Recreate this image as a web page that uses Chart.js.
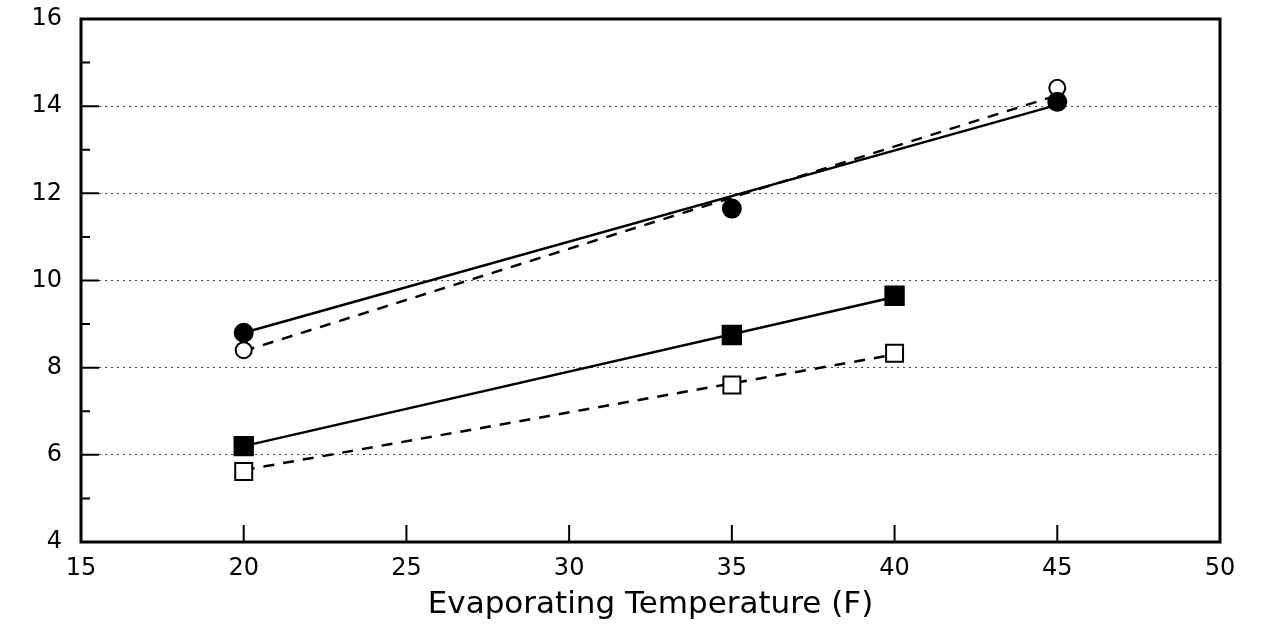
<!DOCTYPE html>
<html>
<head>
<meta charset="utf-8">
<script src="https://cdn.jsdelivr.net/npm/chart.js@4/dist/chart.umd.min.js"></script>
<style>
  html, body { margin: 0; padding: 0; background: #fff; }
  #wrap { width: 1266px; height: 626px; position: relative; }
</style>
</head>
<body>
<div id="wrap"><canvas id="c"></canvas></div>
<script>
const xTicks = [15, 20, 25, 30, 35, 40, 45, 50];
const yTicks = [4, 6, 8, 10, 12, 14, 16];

// measured points
const filledCircleX = [20, 35, 45];
const filledCircleY = [8.8, 11.65, 14.1];
const openCircleX = [20, 45];
const openCircleY = [8.4, 14.42];
const filledSquareX = [20, 35, 40];
const filledSquareY = [6.2, 8.75, 9.65];
const openSquareX = [20, 35, 40];
const openSquareY = [5.62, 7.6, 8.33];

// fitted lines (end points)
const fitFilledCircleX = [20, 45];
const fitFilledCircleY = [8.8, 14.03];
const fitOpenCircleX = [20, 45];
const fitOpenCircleY = [8.38, 14.25];
const fitFilledSquareX = [20, 40];
const fitFilledSquareY = [6.2, 9.62];
const fitOpenSquareX = [20, 40];
const fitOpenSquareY = [5.65, 8.3];

const FONT = "DejaVu Sans";

function pts(xs, ys){
  return xs.map((x, i) => ({x, y: ys[i]}));
}

function markers(xs, ys, style, filled, r){
  return {
    data: pts(xs, ys),
    showLine: false,
    pointStyle: style,
    pointRadius: r,
    pointBorderWidth: 2,
    pointBorderColor: "#000",
    pointBackgroundColor: filled ? "#000" : "#fff"
  };
}

function fitLine(xs, ys, dashed){
  return {
    data: pts(xs, ys),
    showLine: true,
    borderColor: "#000",
    borderWidth: 2.5,
    borderDash: dashed ? [11, 9] : [],
    pointRadius: 0,
    tension: 0,
    fill: false
  };
}

// frame plus inward tick marks
const framePlugin = {
  id: "frame",
  afterDraw(chart){
    const {ctx, chartArea: a, scales} = chart;
    ctx.save();
    ctx.strokeStyle = "#000";
    ctx.lineWidth = 3;
    ctx.strokeRect(a.left, a.top, a.right - a.left, a.bottom - a.top);
    ctx.lineWidth = 2;
    ctx.beginPath();
    for(const v of xTicks){
      if(v === xTicks[0] || v === xTicks[xTicks.length - 1]) continue;
      const px = scales.x.getPixelForValue(v);
      ctx.moveTo(px, a.bottom);
      ctx.lineTo(px, a.bottom - 17);
    }
    for(let v = yTicks[0] + 1; v < yTicks[yTicks.length - 1]; v += 1){
      const py = scales.y.getPixelForValue(v);
      const len = (v % 2 === 0) ? 18 : 9;
      ctx.moveTo(a.left, py);
      ctx.lineTo(a.left + len, py);
    }
    ctx.stroke();
    ctx.restore();
  }
};

new Chart(document.getElementById("c"), {
  type: "scatter",
  data: {
    datasets: [
      markers(filledCircleX, filledCircleY, "circle", true, 9),
      markers(openCircleX, openCircleY, "circle", false, 8),
      markers(filledSquareX, filledSquareY, "rect", true, 13),
      markers(openSquareX, openSquareY, "rect", false, 12),
      fitLine(fitFilledCircleX, fitFilledCircleY, false),
      fitLine(fitOpenCircleX, fitOpenCircleY, true),
      fitLine(fitFilledSquareX, fitFilledSquareY, false),
      fitLine(fitOpenSquareX, fitOpenSquareY, true)
    ]
  },
  options: {
    responsive: true,
    maintainAspectRatio: false,
    animation: false,
    layout: { padding: { left: 0, right: 46, top: 19, bottom: 0 } },
    plugins: { legend: { display: false }, tooltip: { enabled: false } },
    scales: {
      x: {
        type: "linear",
        min: 15, max: 50,
        afterBuildTicks: s => { s.ticks = xTicks.map(v => ({value: v})); },
        afterFit: s => { s.height = 84; s.paddingLeft = 0; s.paddingRight = 0; },
        grid: { display: false, drawTicks: false },
        border: { display: false },
        ticks: {
          color: "#000",
          padding: 12,
          maxRotation: 0,
          font: { family: FONT, size: 24 }
        },
        title: {
          display: true,
          text: "Evaporating Temperature (F)",
          color: "#000",
          font: { family: FONT, size: 31 },
          padding: { top: 0, bottom: 2 }
        }
      },
      y: {
        type: "linear",
        min: 4, max: 16,
        afterBuildTicks: s => { s.ticks = yTicks.map(v => ({value: v})); },
        afterFit: s => { s.width = 81; s.paddingTop = 0; s.paddingBottom = 0; },
        grid: {
          drawTicks: false,
          color: c => (c.tick && (c.tick.value === 4 || c.tick.value === 16)) ? "rgba(0,0,0,0)" : "#444",
          lineWidth: 1
        },
        border: { display: false, dash: [2, 4] },
        ticks: {
          color: "#000",
          padding: 19,
          font: { family: FONT, size: 24 }
        }
      }
    }
  },
  plugins: [framePlugin]
});
</script>
</body>
</html>
